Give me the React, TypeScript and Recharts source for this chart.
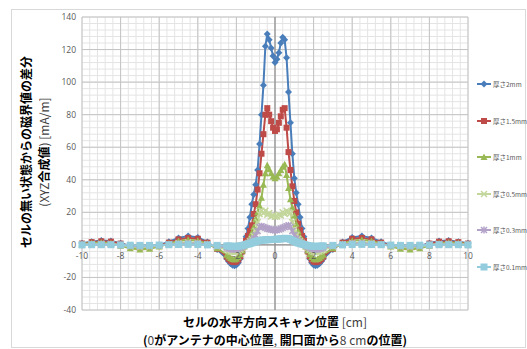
import React from 'react';
import { LineChart, Line, XAxis, YAxis, CartesianGrid, ReferenceLine } from 'recharts';

// scan positions [cm]: 0.5 steps outside, 0.1 steps around the antenna centre
const scanX = [
  -10, -9.5, -9, -8.5, -8, -7.5, -7, -6.5, -6, -5.5, -5, -4.5, -4, -3.5, -3,
  -2.5, -2.4, -2.3, -2.2, -2.1, -2, -1.9, -1.8, -1.7, -1.6, -1.5, -1.4, -1.3, -1.2, -1.1,
  -1, -0.9, -0.8, -0.7, -0.6, -0.5, -0.4, -0.3, -0.2, -0.1,
  0,
  0.1, 0.2, 0.3, 0.4, 0.5, 0.6, 0.7, 0.8, 0.9, 1, 1.1, 1.2, 1.3, 1.4, 1.5,
  1.6, 1.7, 1.8, 1.9, 2, 2.1, 2.2, 2.3, 2.4, 2.5,
  3, 3.5, 4, 4.5, 5, 5.5, 6, 6.5, 7, 7.5, 8, 8.5, 9, 9.5, 10,
];

const t2mm = [
  1.0, 2.0, 2.7, 2.4, 1.0, -0.6, -1.4, -1.2, -0.2, 2.0, 4.3, 5.4, 4.6, 1.8, -2.8,
  -8.5, -10.2, -11.6, -12.5, -12.8, -12.4, -11, -8.5, -4.5, 0.5, 5, 10, 17, 25, 31,
  37, 46, 62, 80, 98, 122, 129.5, 126, 121, 116,
  112,
  114, 118, 124, 127.5, 126, 115, 94, 75, 56, 41, 32, 25, 17, 10, 5,
  0.5, -4.5, -8.5, -11, -12.4, -12.8, -12.5, -11.6, -10.2, -8.5,
  -2.8, 1.8, 4.6, 5.4, 4.3, 2.0, -0.2, -1.2, -1.4, -0.6, 1.0, 2.4, 2.7, 2.0, 1.0,
];

const t15mm = [
  0.8, 1.7, 2.2, 2.0, 0.8, -0.9, -1.8, -1.6, -0.5, 1.4, 3.4, 4.3, 3.8, 1.4, -2.4,
  -7.2, -8.6, -9.7, -10.4, -10.6, -10.2, -9, -7, -4, -0.5, 2.5, 5.5, 8.5, 12, 19,
  25, 34, 44, 56, 68, 80, 84, 80, 76, 72,
  70,
  71, 75, 79, 83, 84, 72, 57, 46, 36, 27, 20, 13, 9, 5.5, 2.5,
  -0.5, -4, -7, -9, -10.2, -10.6, -10.4, -9.7, -8.6, -7.2,
  -2.4, 1.4, 3.8, 4.3, 3.4, 1.4, -0.5, -1.6, -1.8, -0.9, 0.8, 2.0, 2.2, 1.7, 0.8,
];

const t1mm = [
  0.5, 1.2, 1.5, 1.0, -0.5, -2.0, -2.8, -2.4, -1.0, 0.8, 2.4, 3.2, 2.6, 0.8, -2.0,
  -6, -7.2, -8.1, -8.7, -8.9, -8.5, -7.5, -5.8, -3.5, -1, 1, 2.5, 4.5, 7.5, 11,
  16, 20, 24, 29, 37, 44, 49, 46.5, 44, 42,
  41,
  42, 44, 46, 48, 49.5, 43, 35, 28, 23, 18, 13, 8.5, 5, 3, 1,
  -1, -3.5, -5.8, -7.5, -8.5, -8.9, -8.7, -8.1, -7.2, -6,
  -2.0, 0.8, 2.6, 3.2, 2.4, 0.8, -1.0, -2.4, -2.8, -2.0, -0.5, 1.0, 1.5, 1.2, 0.5,
];

const t05mm = [
  0.2, 0.5, 0.7, 0.5, -0.2, -1.0, -1.4, -1.2, -0.5, 0.4, 1.2, 1.6, 1.3, 0.4, -1.0,
  -3, -3.6, -4.1, -4.4, -4.5, -4.3, -3.8, -2.9, -1.8, -0.6, 0.4, 1.2, 2.2, 3.5, 5.5,
  8.5, 14, 19, 21, 19.5, 21, 18.5, 19.5, 17.5, 18,
  17.3,
  17.5, 18.5, 18, 20, 19, 21, 20, 19.5, 14, 9.5, 6, 3.8, 2.4, 1.3, 0.4,
  -0.6, -1.8, -2.9, -3.8, -4.3, -4.5, -4.4, -4.1, -3.6, -3,
  -1.0, 0.4, 1.3, 1.6, 1.2, 0.4, -0.5, -1.2, -1.4, -1.0, -0.2, 0.5, 0.7, 0.5, 0.2,
];

const t03mm = [
  0.1, 0.3, 0.4, 0.3, -0.1, -0.6, -0.8, -0.7, -0.3, 0.2, 0.7, 0.9, 0.8, 0.2, -0.6,
  -1.8, -2.2, -2.5, -2.7, -2.7, -2.6, -2.3, -1.8, -1.1, -0.4, 0.2, 0.8, 1.5, 2.5, 4,
  6, 8.5, 11, 11.5, 11, 10.5, 10, 9.8, 9.5, 9.2,
  9,
  9.2, 9.5, 10, 10.5, 11, 11.5, 12, 11, 8.5, 6, 4, 2.5, 1.5, 0.8, 0.2,
  -0.4, -1.1, -1.8, -2.3, -2.6, -2.7, -2.7, -2.5, -2.2, -1.8,
  -0.6, 0.2, 0.8, 0.9, 0.7, 0.2, -0.3, -0.7, -0.8, -0.6, -0.1, 0.3, 0.4, 0.3, 0.1,
];

const t01mm = [
  0, 0.1, 0.1, 0.1, 0, -0.2, -0.3, -0.3, -0.1, 0.1, 0.2, 0.3, 0.2, 0, -0.3,
  -0.6, -0.7, -0.8, -0.9, -0.9, -0.9, -0.8, -0.6, -0.4, -0.1, 0.2, 0.5, 0.8, 1.2, 1.6,
  2.0, 2.4, 2.7, 2.9, 3.0, 3.1, 3.2, 3.2, 3.3, 3.3,
  3.4,
  3.5, 3.6, 3.7, 3.8, 4.0, 4.0, 3.8, 3.4, 2.8, 2.2, 1.7, 1.2, 0.8, 0.5, 0.2,
  -0.1, -0.4, -0.6, -0.8, -0.9, -0.9, -0.9, -0.8, -0.7, -0.6,
  -0.3, 0, 0.2, 0.3, 0.2, 0.1, -0.1, -0.3, -0.3, -0.2, 0, 0.1, 0.1, 0.1, 0,
];

const seriesNames = ['厚さ2mm', '厚さ1.5mm', '厚さ1mm', '厚さ0.5mm', '厚さ0.3mm', '厚さ0.1mm'];
const xTicks = [-10, -8, -6, -4, -2, 0, 2, 4, 6, 8, 10];
const yTicks = [-40, -20, 0, 20, 40, 60, 80, 100, 120, 140];

const series = [
  { key: 's2', name: seriesNames[0], values: t2mm, color: '#4A7EBB', shape: 'diamond' },
  { key: 's15', name: seriesNames[1], values: t15mm, color: '#BE4B48', shape: 'square' },
  { key: 's1', name: seriesNames[2], values: t1mm, color: '#98B954', shape: 'triangle' },
  { key: 's05', name: seriesNames[3], values: t05mm, color: '#C3D69B', shape: 'cross' },
  { key: 's03', name: seriesNames[4], values: t03mm, color: '#B3A2C7', shape: 'star' },
  { key: 's01', name: seriesNames[5], values: t01mm, color: '#93CDDD', shape: 'bigsquare' },
];

const data = scanX.map((x, i) => {
  const row: Record<string, number> = { x };
  series.forEach((s) => { row[s.key] = s.values[i]; });
  return row;
});

const W = 527;
const H = 349;
const PLOT = { left: 82, right: 468, top: 17, bottom: 310 };
const Y_MIN = -40;
const Y_MAX = 140;
const zeroY = PLOT.top + (Y_MAX / (Y_MAX - Y_MIN)) * (PLOT.bottom - PLOT.top);

// Excel style minor grid (major / 5)
const minorY = Array.from({ length: 46 }, (_, i) => Y_MIN + i * 4);
const minorX = Array.from({ length: 51 }, (_, i) => Math.round((-10 + i * 0.4) * 10) / 10);

const numFont = '"Open Sans", "Noto Sans", sans-serif';
const jpFont = '"Noto Sans CJK JP", "Noto Sans", sans-serif';

function Marker({ shape, cx, cy, color }: { shape: string; cx: number; cy: number; color: string }) {
  if (cx == null || cy == null || isNaN(cx) || isNaN(cy)) return null;
  switch (shape) {
    case 'diamond':
      return <polygon points={`${cx},${cy - 3.5} ${cx + 3.5},${cy} ${cx},${cy + 3.5} ${cx - 3.5},${cy}`} fill={color} />;
    case 'square':
      return <rect x={cx - 3} y={cy - 3} width={6} height={6} fill={color} />;
    case 'bigsquare':
      return <rect x={cx - 3.5} y={cy - 3.5} width={7} height={7} fill={color} />;
    case 'triangle':
      return <polygon points={`${cx},${cy - 3.5} ${cx + 3.5},${cy + 3} ${cx - 3.5},${cy + 3}`} fill={color} />;
    case 'cross':
      return (
        <g stroke={color} strokeWidth={1.5}>
          <line x1={cx - 3} y1={cy - 3} x2={cx + 3} y2={cy + 3} />
          <line x1={cx - 3} y1={cy + 3} x2={cx + 3} y2={cy - 3} />
        </g>
      );
    default:
      return (
        <g stroke={color} strokeWidth={1.5}>
          <line x1={cx - 3} y1={cy - 3} x2={cx + 3} y2={cy + 3} />
          <line x1={cx - 3} y1={cy + 3} x2={cx + 3} y2={cy - 3} />
          <line x1={cx} y1={cy - 3.5} x2={cx} y2={cy + 3.5} />
        </g>
      );
  }
}

const XTick = (props: any) => {
  const { x, payload } = props;
  return (
    <text x={x} y={zeroY + 14} textAnchor="middle" fontSize={8.5} fill="#595959" fontFamily={numFont}>
      {payload.value}
    </text>
  );
};

const LegendBox = () => (
  <div style={{ position: 'absolute', left: 476, top: 0, width: 60 }}>
    {series.map((s, i) => (
      <div
        key={s.key}
        style={{ position: 'absolute', left: 0, top: 84 + i * 36.5 - 5, height: 10, width: 60, display: 'flex', alignItems: 'center', whiteSpace: 'nowrap' }}
      >
        <svg width={16} height={10} style={{ flex: 'none' }}>
          <line x1={1} y1={5} x2={15} y2={5} stroke={s.color} strokeWidth={2} />
          <Marker shape={s.shape} cx={8} cy={5} color={s.color} />
        </svg>
        <span style={{ fontSize: 6.5, color: '#595959', fontFamily: jpFont, marginLeft: 1 }}>{s.name}</span>
      </div>
    ))}
  </div>
);

const bold = { fontWeight: 700, color: '#000', display: 'block' as const, lineHeight: '14px' };
const thin = { fontWeight: 400, color: '#404040', display: 'block' as const, lineHeight: '14px', whiteSpace: 'pre' as const };
const titleLine = { height: 18, display: 'flex', justifyContent: 'center', alignItems: 'center' };

export default function App() {
  return (
    <div style={{ position: 'fixed', left: 0, top: 0, width: W, height: H, background: '#fff', overflow: 'hidden' }}>
      <div style={{ position: 'absolute', left: 11, top: 9, width: 513, height: 337, border: '1px solid #d9d9d9' }} />
      <div style={{ position: 'absolute', left: 0, top: 0 }}>
        <LineChart
          width={W}
          height={H}
          data={data}
          margin={{ top: PLOT.top, right: W - PLOT.right, bottom: H - PLOT.bottom - 20, left: 0 }}
        >
          <CartesianGrid stroke="#e4e4e4" horizontalValues={minorY} verticalValues={minorX} />
          <CartesianGrid stroke="#c4c4c4" horizontalValues={yTicks} verticalValues={xTicks} />
          <XAxis
            type="number"
            dataKey="x"
            domain={[-10, 10]}
            ticks={xTicks}
            height={20}
            axisLine={false}
            tickLine={false}
            tick={<XTick />}
            interval={0}
          />
          <YAxis
            type="number"
            domain={[Y_MIN, Y_MAX]}
            ticks={yTicks}
            width={PLOT.left}
            axisLine={false}
            tickLine={false}
            tickSize={4}
            tickMargin={2}
            interval={0}
            tick={{ fontSize: 8.5, fill: '#595959', fontFamily: numFont }}
          />
          <ReferenceLine y={0} stroke="#868686" strokeWidth={1} />
          <ReferenceLine x={0} stroke="#868686" strokeWidth={1} />
          {series.map((s) => (
            <Line
              key={s.key}
              dataKey={s.key}
              name={s.name}
              type="linear"
              stroke={s.color}
              strokeWidth={2}
              isAnimationActive={false}
              activeDot={false}
              dot={(p: any) => <Marker key={`${s.key}-${p.index}`} shape={s.shape} cx={p.cx} cy={p.cy} color={s.color} />}
            />
          ))}
        </LineChart>
      </div>
      <LegendBox />
      <div
        style={{
          position: 'absolute', left: 35, top: 152, transform: 'translate(-50%, -50%) rotate(-90deg)',
          whiteSpace: 'nowrap', fontFamily: jpFont, fontSize: 12,
        }}
      >
        <div style={titleLine}><span style={bold}>セルの無い状態からの磁界値の差分</span></div>
        <div style={titleLine}>
          <span style={thin}>(XYZ</span><span style={bold}>合成値</span><span style={thin}>) [mA/m]</span>
        </div>
      </div>
      <div
        style={{
          position: 'absolute', left: 275, top: 313, transform: 'translateX(-50%)',
          whiteSpace: 'nowrap', fontFamily: jpFont, fontSize: 12,
        }}
      >
        <div style={titleLine}><span style={bold}>セルの水平方向スキャン位置</span><span style={thin}> [cm]</span></div>
        <div style={titleLine}>
          <span style={bold}>(</span><span style={thin}>0</span><span style={bold}>がアンテナの中心位置</span>
          <span style={thin}>, </span><span style={bold}>開口面から</span><span style={thin}>8 cm</span>
          <span style={bold}>の位置)</span>
        </div>
      </div>
    </div>
  );
}
